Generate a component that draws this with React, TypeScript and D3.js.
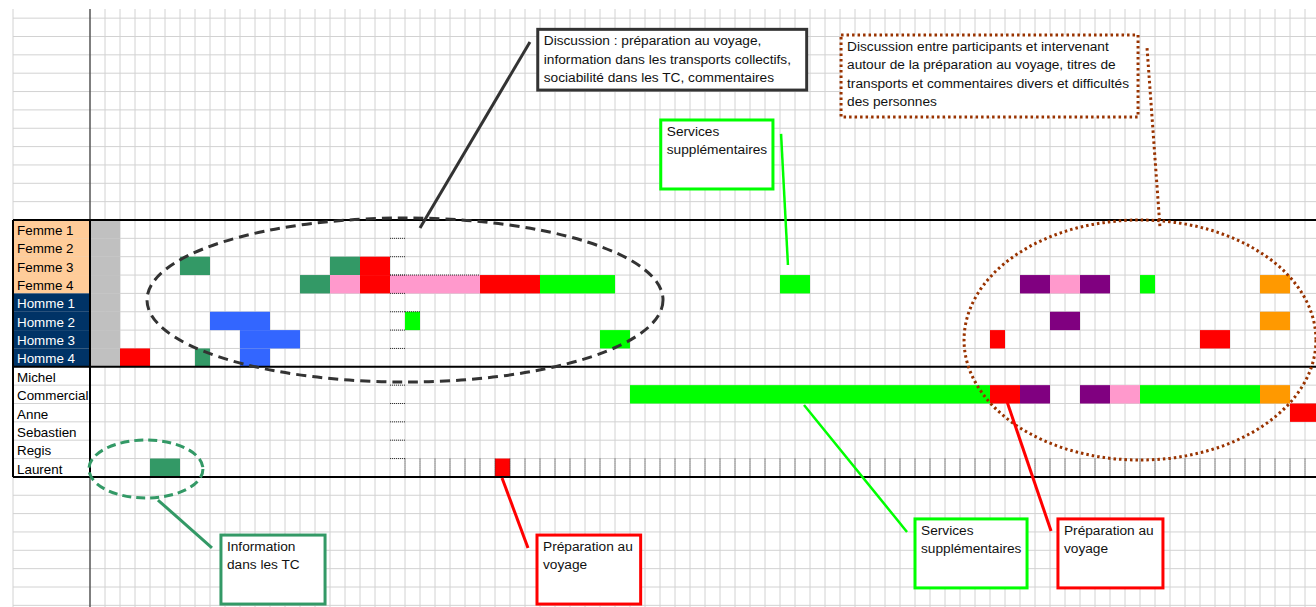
import * as d3 from "d3";

// rows of the timeline
const participants = ["Femme 1", "Femme 2", "Femme 3", "Femme 4", "Homme 1", "Homme 2", "Homme 3", "Homme 4"];
const intervenants = ["Michel", "Commercial", "Anne", "Sebastien", "Regis", "Laurent"];

// coloured stretches: [row, first column, last column, theme]
const debut = participants.map(p => [p, 0, 1, "debut"]);
const femmeSegments = [
  ["Femme 3", 6, 7, "information"],
  ["Femme 3", 16, 17, "information"],
  ["Femme 3", 18, 19, "preparation"],
  ["Femme 4", 14, 15, "information"],
  ["Femme 4", 16, 17, "rose"],
  ["Femme 4", 18, 19, "preparation"],
  ["Femme 4", 20, 25, "rose"],
  ["Femme 4", 26, 29, "preparation"],
  ["Femme 4", 30, 34, "services"],
  ["Femme 4", 46, 47, "services"],
  ["Femme 4", 62, 63, "violet"],
  ["Femme 4", 64, 65, "rose"],
  ["Femme 4", 66, 67, "violet"],
  ["Femme 4", 70, 70, "services"],
  ["Femme 4", 78, 79, "orange"],
];
const hommeSegments = [
  ["Homme 2", 8, 11, "sociabilite"],
  ["Homme 2", 21, 21, "services"],
  ["Homme 2", 64, 65, "violet"],
  ["Homme 2", 78, 79, "orange"],
  ["Homme 3", 10, 13, "sociabilite"],
  ["Homme 3", 34, 35, "services"],
  ["Homme 3", 60, 60, "preparation"],
  ["Homme 3", 74, 75, "preparation"],
  ["Homme 4", 2, 3, "preparation"],
  ["Homme 4", 7, 7, "information"],
  ["Homme 4", 10, 11, "sociabilite"],
];
const intervenantSegments = [
  ["Commercial", 36, 59, "services"],
  ["Commercial", 60, 61, "preparation"],
  ["Commercial", 62, 63, "violet"],
  ["Commercial", 66, 67, "violet"],
  ["Commercial", 68, 69, "rose"],
  ["Commercial", 70, 77, "services"],
  ["Commercial", 78, 79, "orange"],
  ["Anne", 80, 81, "preparation"],
  ["Laurent", 4, 5, "information"],
  ["Laurent", 27, 27, "preparation"],
];

// annotations, in grid units (columns, rows)
const ellipses = [
  { kind: "discussion", cx: 21, cy: 4.36, rx: 17.2, ry: 4.47 },
  { kind: "echange", cx: 70, cy: 6.54, rx: 11.73, ry: 6.54 },
  { kind: "information", cx: 3.73, cy: 13.57, rx: 3.8, ry: 1.58 },
];
const callouts = [
  { kind: "discussion", box: [29.85, -10.39, 47.78, -7.08], link: [29.33, -9.7, 22, 0.44],
    lines: ["Discussion : préparation au voyage,", "information dans les transports collectifs,", "sociabilité dans les TC, commentaires"] },
  { kind: "services", box: [38.05, -5.45, 45.53, -1.69], link: [46.07, -4.69, 46.53, 2.45],
    lines: ["Services", "supplémentaires"] },
  { kind: "echange", box: [50.07, -10.08, 69.87, -5.61], link: [70.47, -9.37, 71.33, 0.38],
    lines: ["Discussion entre participants et intervenant", "autour de la préparation au voyage, titres de", "transports et commentaires divers et difficultés", "des personnes"] },
  { kind: "information", box: [8.73, 17.17, 15.67, 20.93], link: [4.53, 15.26, 8.13, 17.87],
    lines: ["Information", "dans les TC"] },
  { kind: "preparation", box: [29.8, 17.17, 36.71, 20.93], link: [27.47, 14.06, 29.2, 17.87],
    lines: ["Préparation au", "voyage"] },
  { kind: "services", box: [55, 16.29, 62.47, 20.05], link: [47.6, 10.08, 54.47, 17.0],
    lines: ["Services", "supplémentaires"] },
  { kind: "preparation", box: [64.53, 16.29, 71.53, 20.05], link: [60.87, 9.26, 64.07, 16.95],
    lines: ["Préparation au", "voyage"] },
];

const themeColors = {
  debut: "#C0C0C0",
  information: "#339966",
  preparation: "#FF0000",
  services: "#00FF00",
  sociabilite: "#3366FF",
  rose: "#FF99CC",
  violet: "#800080",
  orange: "#FF9900",
};

const annotationStyle = {
  discussion: { stroke: "#333333", width: 3, ellipseDash: "10,6", boxDash: null, linkDash: null },
  echange: { stroke: "#993300", width: 3, ellipseDash: "2.5,3", boxDash: "2.5,3", linkDash: "2.5,3" },
  information: { stroke: "#339966", width: 3, ellipseDash: "9,5", boxDash: null, linkDash: null },
  services: { stroke: "#00FF00", width: 3, ellipseDash: null, boxDash: null, linkDash: null },
  preparation: { stroke: "#FF0000", width: 3, ellipseDash: null, boxDash: null, linkDash: null },
};

const width = 1316, height = 607;
const font = "'Liberation Sans', Arial, sans-serif";

export default function App() {
  const rows = [...participants, ...intervenants];
  const segments = [...debut, ...femmeSegments, ...hommeSegments, ...intervenantSegments];

  // one column = 15px, one row = 18.35px
  const x = d3.scaleLinear().domain([0, 1]).range([90, 105]);
  const y = d3.scaleLinear().domain([0, 1]).range([220, 238.35]);
  const rowIndex = d3.scaleOrdinal().domain(rows).range(d3.range(rows.length));

  const gridTop = 9, labelLeft = 13;
  const nCols = Math.ceil(x.invert(width));
  const hLines = d3.range(-11, 22).map(k => y(k)).filter(v => v > gridTop && v < height);
  const vLines = d3.range(1, nCols + 1).map(c => x(c));
  const laurent = rowIndex("Laurent");

  return (
    <div style={{ position: "absolute", left: 0, top: 0 }}>
      <svg width={width} height={height} style={{ display: "block", background: "#fff" }}>
        {/* spreadsheet grid */}
        <g stroke="#d2d2d2" strokeWidth={1}>
          {hLines.map((v, i) => <line key={"h" + i} x1={labelLeft} x2={width} y1={v} y2={v} />)}
          {vLines.map((v, i) => <line key={"v" + i} x1={v} x2={v} y1={gridTop} y2={height} />)}
          <line x1={labelLeft} x2={labelLeft} y1={gridTop} y2={height} />
        </g>

        {/* coloured cells */}
        {segments.map((s, i) => {
          const r = rowIndex(s[0]);
          return (
            <rect key={"s" + i} x={x(s[1])} y={y(r)} width={x(s[2] + 1) - x(s[1])} height={y(r + 1) - y(r)}
              fill={themeColors[s[3]]} />
          );
        })}

        {/* dotted cell borders left by the sheet */}
        <g stroke="#333" strokeWidth={1} strokeDasharray="1,1">
          {d3.range(1, 14).filter(r => r !== participants.length).map(r =>
            <line key={"d" + r} x1={x(20)} x2={x(21)} y1={y(r)} y2={y(r)} />)}
          <line x1={x(20)} x2={x(26)} y1={y(3)} y2={y(3)} />
          <line x1={x(21)} x2={x(22)} y1={y(5)} y2={y(5)} />
          {d3.range(21, nCols + 1).map(c =>
            <line key={"l" + c} x1={x(c)} x2={x(c)} y1={y(laurent)} y2={y(laurent + 1)} />)}
        </g>

        {/* row labels */}
        {rows.map((name, i) => {
          const homme = name.startsWith("Homme");
          const femme = name.startsWith("Femme");
          return (
            <g key={name}>
              {(homme || femme) && (
                <rect x={labelLeft} y={y(i)} width={x(0) - labelLeft} height={y(i + 1) - y(i)}
                  fill={homme ? "#003366" : "#FFCC99"} />
              )}
              <text x={17} y={y(i) + 15} fontFamily={font} fontSize={13.4}
                fill={homme ? "#ffffff" : "#000000"}>{name}</text>
            </g>
          );
        })}

        {/* frozen pane line */}
        <line x1={x(0)} x2={x(0)} y1={gridTop} y2={height} stroke="#555" strokeWidth={1.5} />

        {/* block borders */}
        <g stroke="#000" strokeWidth={2}>
          {[0, participants.length, rows.length].map(r =>
            <line key={"b" + r} x1={labelLeft} x2={width} y1={y(r)} y2={y(r)} />)}
          <line x1={labelLeft} x2={labelLeft} y1={y(0)} y2={y(rows.length)} />
          <line x1={x(0)} x2={x(0)} y1={y(0)} y2={y(rows.length)} />
        </g>

        {/* ellipses */}
        {ellipses.map((e, i) => {
          const st = annotationStyle[e.kind];
          return (
            <ellipse key={"e" + i} cx={x(e.cx)} cy={y(e.cy)} rx={x(e.rx) - x(0)} ry={y(e.ry) - y(0)}
              fill="none" stroke={st.stroke} strokeWidth={st.width} strokeDasharray={st.ellipseDash || undefined} />
          );
        })}

        {/* callouts */}
        {callouts.map((c, i) => {
          const st = annotationStyle[c.kind];
          const [c0, r0, c1, r1] = c.box;
          const [lc0, lr0, lc1, lr1] = c.link;
          return (
            <g key={"c" + i}>
              <line x1={x(lc0)} y1={y(lr0)} x2={x(lc1)} y2={y(lr1)} stroke={st.stroke}
                strokeWidth={c.kind === "services" ? 2.5 : 3} strokeDasharray={st.linkDash || undefined} />
              <rect x={x(c0)} y={y(r0)} width={x(c1) - x(c0)} height={y(r1) - y(r0)} fill="#fff"
                stroke={st.stroke} strokeWidth={st.width} strokeDasharray={st.boxDash || undefined} />
              {c.lines.map((t, j) => (
                <text key={j} x={x(c0) + 6} y={y(r0) + 16 + j * 18.3} fontFamily={font} fontSize={13.7}
                  fill="#111">{t}</text>
              ))}
            </g>
          );
        })}
      </svg>
    </div>
  );
}
